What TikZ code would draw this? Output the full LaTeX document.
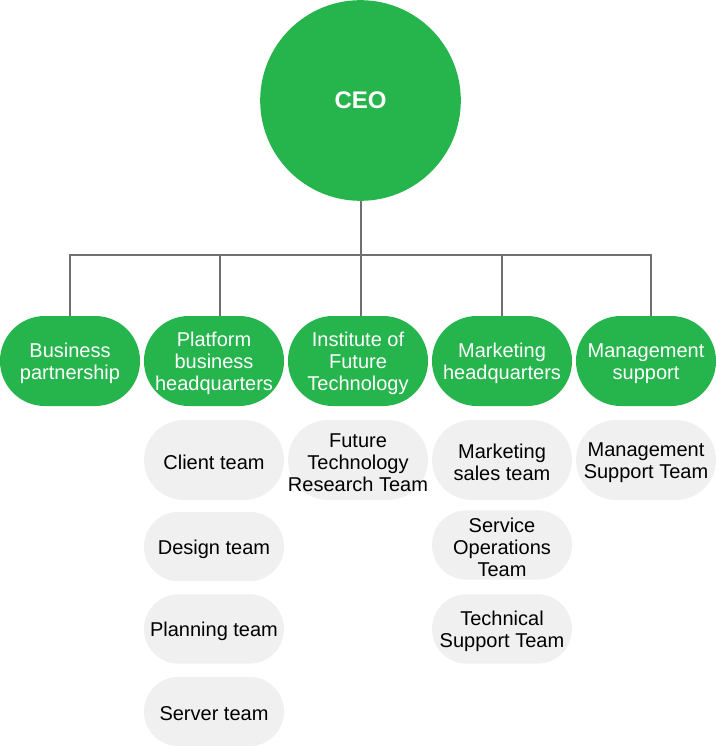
\documentclass[tikz,border=0pt]{standalone}
\usepackage{fontspec}
\setmainfont{Liberation Sans}
\usetikzlibrary{calc}
\definecolor{cgreen}{HTML}{26B44C}
\definecolor{cgray}{HTML}{F0F0F0}
\definecolor{cline}{HTML}{707070}
\tikzset{
  pillbase/.style={shape=rectangle, inner sep=0pt, minimum width=105pt},
  ptext/.style={align=center, inner sep=0pt, yshift=-1.8pt, font=\fontsize{15}{16.5}\selectfont},
  gpill/.style={pillbase, fill=cgreen, minimum height=67.5pt, rounded corners=33.6pt,
    label={[ptext, text=white]center:#1}},
  tpillA/.style={pillbase, fill=cgray, minimum height=60pt, rounded corners=29.9pt,
    label={[ptext, text=black]center:#1}},
  tpillB/.style={pillbase, fill=cgray, minimum height=52pt, rounded corners=25.9pt,
    label={[ptext, text=black]center:#1}},
  conn/.style={draw=cline, line width=1.5pt},
}
\begin{document}
\begin{tikzpicture}[x=0.75pt, y=-0.75pt]
\useasboundingbox (0,0) rectangle (716,746);
% CEO
\node[circle, fill=cgreen, text=white, minimum size=150.5pt, inner sep=0pt,
  font=\fontsize{18}{20}\selectfont\bfseries] (ceo) at (360.5,100.5) {\raisebox{-1pt}{CEO}};
\coordinate (j) at (360.5,255);
% Departments
\node[gpill={Business\\partnership}] (p1) at (70,361) {};
\node[gpill={Platform\\business\\headquarters}] (p2) at (214,361) {};
\node[gpill={Institute of\\Future\\Technology}] (p3) at (358,361) {};
\node[gpill={Marketing\\headquarters}] (p4) at (502,361) {};
\node[gpill={Management\\support}] (p5) at (646,361) {};
% Connectors
\draw[conn] (ceo.south) -- (j);
\draw[conn] (j) -| (p1.north);
\draw[conn] (j) -| ([xshift=4.5pt]p2.north);
\draw[conn] (j) -- (p3.north -| j);
\draw[conn] (j) -| (p4.north);
\draw[conn] (j) -| ([xshift=3.75pt]p5.north);
% Teams
\node[tpillA={Client team}] (t21) at (214,460) {};
\node[tpillB={Design team}] (t22) at (214,546.5) {};
\node[tpillB={Planning team}] (t23) at (214,629) {};
\node[tpillB={Server team}] (t24) at (214,711.5) {};
\node[tpillA={Future\\Technology\\Research Team}] (t31) at (358,460) {};
\node[tpillA={Marketing\\sales team}] (t41) at (502,460) {};
\node[tpillB={Service\\Operations\\Team}] (t42) at (502,545) {};
\node[tpillB={Technical\\Support Team}] (t43) at (502,629) {};
\node[tpillA={Management\\Support Team}] (t51) at (646,460) {};
\end{tikzpicture}
\end{document}
